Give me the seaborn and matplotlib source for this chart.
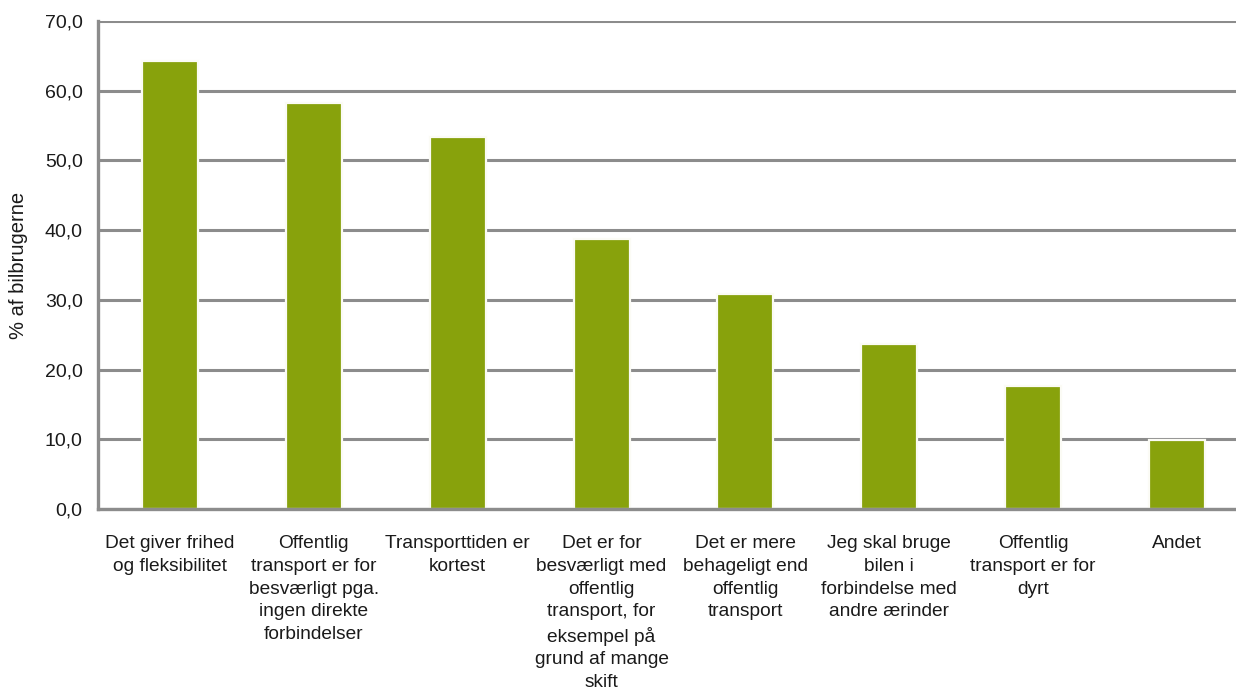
import matplotlib
matplotlib.use("Agg")
import matplotlib.pyplot as plt
import seaborn as sns
import pandas as pd

categories = [
    "Det giver frihed\nog fleksibilitet",
    "Offentlig\ntransport er for\nbesværligt pga.\ningen direkte\nforbindelser",
    "Transporttiden er\nkortest",
    "Det er for\nbesværligt med\noffentlig\ntransport, for\neksempel på\ngrund af mange\nskift",
    "Det er mere\nbehageligt end\noffentlig\ntransport",
    "Jeg skal bruge\nbilen i\nforbindelse med\nandre ærinder",
    "Offentlig\ntransport er for\ndyrt",
    "Andet",
]
values = [64.3, 58.3, 53.4, 38.8, 30.8, 23.7, 17.6, 9.9]
yticks = [0, 10, 20, 30, 40, 50, 60, 70]
ytick_labels = ["0,0", "10,0", "20,0", "30,0", "40,0", "50,0", "60,0", "70,0"]
ylabel = "% af bilbrugerne"

sns.set_theme(style="white")
plt.rcParams["font.family"] = ["Liberation Sans", "DejaVu Sans"]

W, H = 1236, 697
fig = plt.figure(figsize=(W / 100, H / 100), dpi=100)
ax = fig.add_axes([98 / W, (H - 509) / H, (1249 - 98) / W, (509 - 21) / H])

df = pd.DataFrame({"kategori": categories, "andel": values})
sns.barplot(data=df, x="kategori", y="andel", color="#88a20c", saturation=1,
            width=0.39, edgecolor="#fbfbf5", linewidth=1.6, ax=ax)

grid_color = "#8c8c8c"
text_color = "#1a1a1a"
ax.set_axisbelow(True)
ax.set_ylim(0, 70)
ax.set_xlim(-0.5, len(categories) - 0.5)
ax.set_yticks(yticks)
ax.set_yticklabels(ytick_labels, fontsize=14, color=text_color)
ax.yaxis.grid(True, color=grid_color, linewidth=2.2)
ax.xaxis.grid(False)
ax.tick_params(axis="y", length=0, pad=11)
ax.tick_params(axis="x", length=0, pad=19, labelsize=13.8, labelcolor=text_color)
for lbl in ax.get_xticklabels():
    lbl.set_linespacing(1.43)
    lbl.set_horizontalalignment("center")

for side in ("top", "right"):
    ax.spines[side].set_visible(False)
for side in ("left", "bottom"):
    ax.spines[side].set_visible(True)
    ax.spines[side].set_color(grid_color)
    ax.spines[side].set_linewidth(2.4)

ax.set_xlabel("")
ax.set_ylabel(ylabel, fontsize=14.5, color=text_color)
ax.yaxis.set_label_coords(-70 / (1249 - 98), 0.5)

fig.savefig("out.png", dpi=100)
